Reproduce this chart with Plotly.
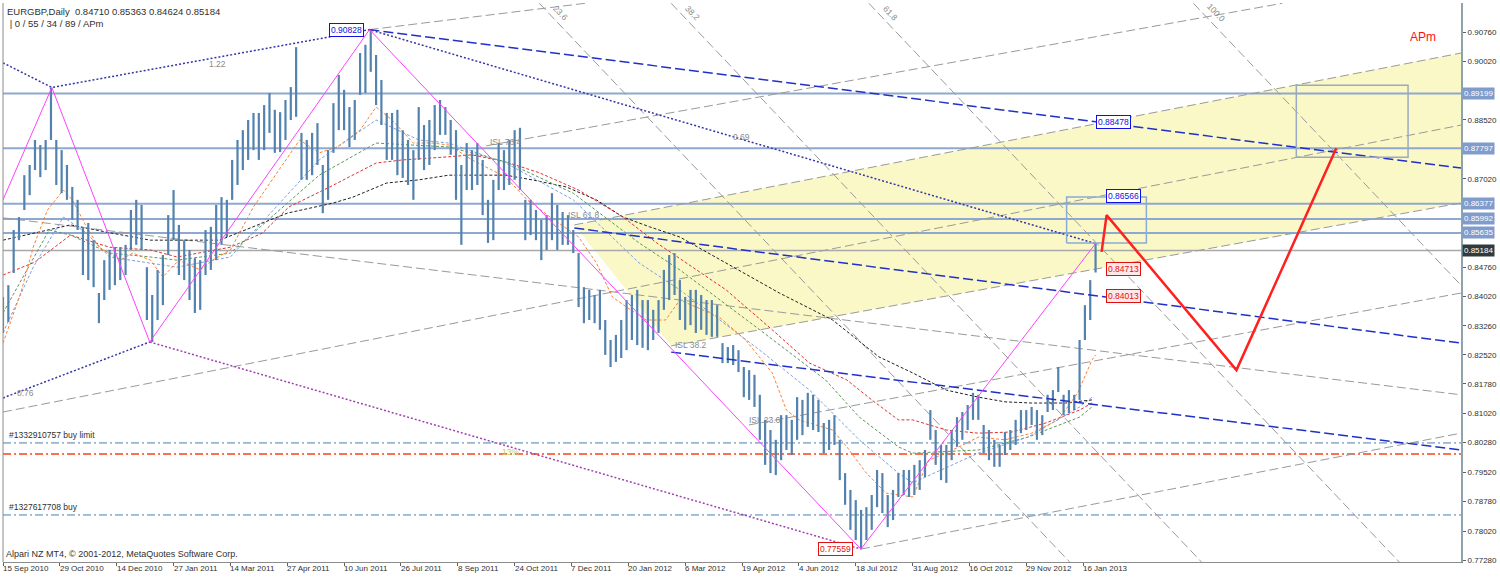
import plotly.graph_objects as go

# ---------------- DATA ----------------
BAR_STEP = 3  # one sample every 3 daily bars
high = [0.8400,0.8430,0.8571,0.8604,0.8711,0.8737,0.8801,0.8788,0.8801,0.8934,
        0.8801,0.8775,0.8737,0.8681,0.8648,0.8579,0.8589,0.8545,0.8410,0.8494,
        0.8520,0.8527,0.8527,0.8533,0.8622,0.8648,0.8635,0.8476,0.8405,0.8469,
        0.8507,0.8609,0.8673,0.8584,0.8545,0.8520,0.8499,0.8494,0.8571,0.8579,
        0.8635,0.8655,0.8648,0.8750,0.8801,0.8826,0.8852,0.8870,0.8870,0.8890,
        0.8921,0.8878,0.8872,0.8903,0.8936,0.9038,0.8819,0.8801,0.8819,0.8844,
        0.8737,0.8775,0.8895,0.8967,0.8929,0.8885,0.8903,0.9023,0.9044,0.9083,
        0.9018,0.8954,0.8870,0.8870,0.8878,0.8826,0.8801,0.8775,0.8885,0.8839,
        0.8852,0.8890,0.8903,0.8885,0.8852,0.8826,0.8737,0.8793,0.8775,0.8793,
        0.8750,0.8648,0.8699,0.8793,0.8775,0.8801,0.8826,0.8832,0.8648,0.8648,
        0.8622,0.8597,0.8609,0.8665,0.8635,0.8617,0.8609,0.8571,0.8512,0.8425,
        0.8418,0.8405,0.8418,0.8341,0.8290,0.8303,0.8341,0.8392,0.8405,0.8418,
        0.8392,0.8392,0.8367,0.8392,0.8469,0.8507,0.8512,0.8443,0.8400,0.8418,
        0.8418,0.8405,0.8392,0.8392,0.8379,0.8282,0.8272,0.8277,0.8264,0.8221,
        0.8213,0.8201,0.8150,0.8086,0.8060,0.8035,0.8098,0.8098,0.8086,0.8144,
        0.8137,0.8155,0.8150,0.8137,0.8078,0.8086,0.8098,0.8035,0.7950,0.7907,
        0.7881,0.7856,0.7863,0.7894,0.7958,0.7950,0.7894,0.7907,0.7950,0.7958,
        0.7958,0.7971,0.7983,0.8009,0.8111,0.8060,0.8022,0.8022,0.8060,0.8093,
        0.8106,0.8124,0.8155,0.8150,0.8073,0.8060,0.8035,0.8022,0.8055,0.8060,
        0.8086,0.8111,0.8111,0.8119,0.8111,0.8098,0.8150,0.8162,0.8221,0.8150,
        0.8162,0.8150,0.8290,0.8379,0.8443,0.85363]
low = [0.8308,0.8336,0.8461,0.8545,0.8622,0.8660,0.8724,0.8706,0.8724,0.8801,
       0.8686,0.8665,0.8648,0.8597,0.8571,0.8456,0.8443,0.8425,0.8333,0.8392,
       0.8418,0.8430,0.8443,0.8456,0.8520,0.8533,0.8520,0.8341,0.8285,0.8341,
       0.8379,0.8507,0.8545,0.8456,0.8443,0.8392,0.8359,0.8367,0.8456,0.8469,
       0.8494,0.8533,0.8553,0.8648,0.8686,0.8724,0.8750,0.8775,0.8750,0.8775,
       0.8819,0.8768,0.8770,0.8801,0.8852,0.8860,0.8699,0.8699,0.8711,0.8737,
       0.8614,0.8648,0.8768,0.8826,0.8826,0.8783,0.8801,0.8916,0.8921,0.8975,
       0.8890,0.8839,0.8750,0.8750,0.8711,0.8704,0.8686,0.8648,0.8750,0.8724,
       0.8737,0.8775,0.8814,0.8814,0.8763,0.8648,0.8533,0.8673,0.8673,0.8686,
       0.8609,0.8538,0.8545,0.8673,0.8673,0.8686,0.8699,0.8673,0.8545,0.8558,
       0.8545,0.8494,0.8520,0.8545,0.8520,0.8533,0.8533,0.8512,0.8374,0.8333,
       0.8341,0.8333,0.8316,0.8252,0.8221,0.8234,0.8244,0.8264,0.8290,0.8277,
       0.8270,0.8264,0.8290,0.8308,0.8367,0.8392,0.8405,0.8341,0.8316,0.8328,
       0.8308,0.8316,0.8303,0.8298,0.8298,0.8231,0.8231,0.8226,0.8208,0.8144,
       0.8137,0.8119,0.8035,0.7971,0.7950,0.7945,0.7983,0.8009,0.7996,0.8035,
       0.8047,0.8068,0.8060,0.8055,0.8001,0.8009,0.8022,0.7932,0.7869,0.7805,
       0.7779,0.77559,0.7779,0.7805,0.7863,0.7848,0.7812,0.7830,0.7889,0.7894,
       0.7889,0.7894,0.7907,0.7940,0.8035,0.7971,0.7932,0.7925,0.7983,0.8017,
       0.8035,0.8060,0.8086,0.8086,0.8001,0.7983,0.7966,0.7966,0.7996,0.8009,
       0.8022,0.8052,0.8060,0.8073,0.8035,0.8047,0.8106,0.8111,0.8157,0.8098,
       0.8103,0.8111,0.8137,0.8290,0.8341,0.84624]
bars = list(range(0, BAR_STEP * len(high), BAR_STEP))

date_labels = ["15 Sep 2010", "29 Oct 2010", "14 Dec 2010", "27 Jan 2011", "14 Mar 2011",
               "27 Apr 2011", "10 Jun 2011", "26 Jul 2011", "8 Sep 2011", "24 Oct 2011",
               "7 Dec 2011", "20 Jan 2012", "6 Mar 2012", "19 Apr 2012", "4 Jun 2012",
               "18 Jul 2012", "31 Aug 2012", "16 Oct 2012", "29 Nov 2012", "16 Jan 2013"]
date_bars = list(range(0, 32 * len(date_labels), 32))

y_ticks = [0.90760, 0.90020, 0.88520, 0.87020, 0.84760, 0.84020, 0.83260, 0.82520,
           0.81780, 0.81020, 0.80280, 0.79520, 0.78780, 0.78020, 0.77280]

# moving averages (bar, price)
ma_orange_x = [0,10,17,25,34,39,47,54,66,73,83,90,99,111,118,128,141,167,178,188,
               201,210,219,231,242,251,264,283,295,308,324,334,343,351,362,373,381,403,418,433,
               441,448,467,475,486,497,512,521,531,549,564,579,594,605,613,615]
ma_orange_y = [0.8282,0.8410,0.8527,0.8622,0.8673,0.8648,0.8579,0.8527,0.8494,0.8512,
               0.8494,0.8451,0.8494,0.8469,0.8494,0.8520,0.8630,0.8801,0.8768,0.8783,
               0.8826,0.8885,0.8852,0.8793,0.8793,0.8788,0.8750,0.8706,0.8648,0.8604,
               0.8553,0.8487,0.8400,0.8374,0.8341,0.8341,0.8392,0.8349,0.8290,0.8206,
               0.8111,0.8086,0.8060,0.8017,0.7950,0.7899,0.7889,0.7983,0.8001,0.8042,
               0.8035,0.8052,0.8086,0.8155,0.8239,0.8252]
ma_blue_x = [0,17,34,47,60,83,98,128,178,210,234,251,283,321,358,381,426,454,482,504,512,549,577,606,613]
ma_blue_y = [0.8308,0.8476,0.8604,0.8563,0.8502,0.8487,0.8476,0.8502,0.8750,0.8852,0.8801,0.8793,
             0.8742,0.8648,0.8487,0.8418,0.8264,0.8162,0.8035,0.7950,0.7925,0.8001,0.8042,0.8119,0.8144]
ma_green_x = [0,26,38,60,83,98,128,178,210,251,283,321,358,381,426,463,482,504,512,549,577,606,613]
ma_green_y = [0.8359,0.8571,0.8558,0.8512,0.8502,0.8494,0.8512,0.8711,0.8793,0.8783,0.8745,0.8665,
              0.8538,0.8469,0.8316,0.8188,0.8093,0.8017,0.8001,0.8009,0.8042,0.8093,0.8119]
ma_red_x = [0,18,38,60,83,98,128,146,161,184,210,225,251,264,283,302,324,349,368,407,433,454,475,489,
            504,512,531,549,568,587,606,613]
ma_red_y = [0.8456,0.8489,0.8558,0.8527,0.8520,0.8502,0.8527,0.8563,0.8630,0.8681,0.8742,0.8750,0.8758,
            0.8763,0.8745,0.8717,0.8673,0.8604,0.8538,0.8418,0.8316,0.8231,0.8188,0.8137,0.8086,0.8086,
            0.8060,0.8052,0.8055,0.8078,0.8111,0.8129]
ma_black_x = [0,38,60,83,122,146,160,186,197,216,234,251,283,298,317,334,349,364,381,437,467,493,512,
              531,549,564,579,598,613]
ma_black_y = [0.8545,0.8584,0.8564,0.8545,0.8545,0.8589,0.8614,0.8640,0.8655,0.8691,0.8699,0.8711,0.8711,
              0.8699,0.8681,0.8648,0.8604,0.8579,0.8553,0.8410,0.8341,0.8247,0.8206,0.8162,0.8144,0.8132,
              0.8129,0.8129,0.8137]

# drawn objects (anchor points in bar / price)
zigzag_x = [0, 27.5, 82.6, 206.3, 482.9, 615]
zigzag_y = [0.8648, 0.8935, 0.8285, 0.90828, 0.77559, 0.85363]
dot_up_x = [0, 27.5, 206.3, 615]
dot_up_y = [0.8998, 0.8935, 0.90828, 0.85363]
dot_low_x = [0, 82.6]
dot_low_y = [0.8142, 0.8285]
dot_purple_x = [82.6, 482.9]
dot_purple_y = [0.8285, 0.77559]
blue_dash = [([206.3, 820.7], [0.90828, 0.8729]),
             ([321.6, 820.7], [0.8576, 0.8282]),
             ([376.1, 820.7], [0.8259, 0.8009])]
gray_dash = [([0, 820.7], [0.8106, 0.8839]),
             ([321.6, 820.7], [0.8584, 0.9023]),
             ([272.1, 720.1], [0.8786, 0.9150]),
             ([376.1, 820.7], [0.8275, 0.8640]),
             ([419.9, 820.7], [0.8073, 0.8410]),
             ([482.9, 820.7], [0.77559, 0.8052]),
             ([0, 820.7], [0.8602, 0.8150]),
             ([206.3, 327.7], [0.90828, 0.9150])]
fib_names = ["23.6", "38.2", "61.8", "100.0"]
fib_lines = [([301.9, 600.4], [0.9150, 0.7723]),
             ([376.1, 674.6], [0.9150, 0.7723]),
             ([487.4, 785.9], [0.9150, 0.7723]),
             ([670.1, 820.7], [0.9150, 0.8430])]
yellow_x = [321.6, 820.7, 820.7, 376.1]
yellow_y = [0.8584, 0.9023, 0.8640, 0.8275]
h_levels = [0.89199, 0.87797, 0.86377, 0.85992, 0.85635]
last_close = 0.85184
rect_small = ([598.7, 643.6], [0.8538, 0.8655])
rect_big = ([728.0, 790.9], [0.8757, 0.8941])
proj_x = [618.4, 621.2, 694.3, 750.5]
proj_y = [0.8515, 0.8609, 0.8213, 0.8780]
order_buy_limit = 0.8027
order_tp = 0.7999
order_buy = 0.7843

X_MAX = 820.7
Y_RANGE = [0.77229, 0.91508]
FONT = "Liberation Sans"

fig = go.Figure()

def add_line(xs, ys, color, width=1, dash="solid", fill=None, fillcolor=None):
    fig.add_trace(go.Scatter(x=xs, y=ys, mode="lines", line=dict(color=color, width=width, dash=dash),
                             fill=fill, fillcolor=fillcolor, hoverinfo="skip", showlegend=False))

# yellow channel
add_line(yellow_x + [yellow_x[0]], yellow_y + [yellow_y[0]], "rgba(0,0,0,0)", 0, fill="toself",
         fillcolor="#FAF8C6")

# horizontal levels
for lv in h_levels:
    add_line([0, X_MAX], [lv, lv], "#8FA8D0", 2)
add_line([0, X_MAX], [last_close, last_close], "#A8A8A8", 1.5)

# order lines
add_line([0, X_MAX], [order_buy_limit] * 2, "#4A7FB0", 1, "8px,3px,2px,3px")
add_line([0, X_MAX], [order_tp] * 2, "#FF7050", 2, "8px,3px,2px,3px")
add_line([0, X_MAX], [order_buy] * 2, "#4A7FB0", 1, "8px,3px,2px,3px")

# gray dashed lines
for xs, ys in gray_dash:
    add_line(xs, ys, "#9A9A9A", 1, "9px,4px")
for xs, ys in fib_lines:
    add_line(xs, ys, "#9A9A9A", 1, "9px,4px")

# moving averages
add_line(ma_black_x, ma_black_y, "#202020", 1, "3px,2px")
add_line(ma_red_x, ma_red_y, "#E03030", 1, "3px,2px")
add_line(ma_green_x, ma_green_y, "#5A9A5A", 1, "3px,2px")
add_line(ma_blue_x, ma_blue_y, "#7FA0E0", 1, "3px,2px")
add_line(ma_orange_x, ma_orange_y, "#FF7F30", 1, "3px,2px")

# price bars
bx, by = [], []
for b, h, l in zip(bars, high, low):
    bx += [b, b, None]
    by += [l, h, None]
add_line(bx, by, "#5382AE", 2.2)

# blue lines
for xs, ys in blue_dash:
    add_line(xs, ys, "#2030C8", 1.5, "10px,4px")
add_line(dot_up_x, dot_up_y, "#3535A5", 1.5, "2px,2px")
add_line(dot_low_x, dot_low_y, "#3535A5", 1.5, "2px,2px")
add_line(dot_purple_x, dot_purple_y, "#A040B0", 1.5, "2px,2px")

# magenta zigzag
add_line(zigzag_x, zigzag_y, "#FF40FF", 1)

# rectangles
add_line([rect_small[0][0], rect_small[0][1], rect_small[0][1], rect_small[0][0], rect_small[0][0]],
         [rect_small[1][0], rect_small[1][0], rect_small[1][1], rect_small[1][1], rect_small[1][0]],
         "#8AAAD8", 1.5)
add_line([rect_big[0][0], rect_big[0][1], rect_big[0][1], rect_big[0][0], rect_big[0][0]],
         [rect_big[1][0], rect_big[1][0], rect_big[1][1], rect_big[1][1], rect_big[1][0]],
         "#9AAAC0", 1.5)

# red projection
add_line(proj_x, proj_y, "#FF2020", 2.5)

ann = []
def text(x, y, t, color="#303030", size=8.5, xanchor="left", yanchor="middle", xref="x", yref="y",
         xshift=0, yshift=0, **kw):
    ann.append(dict(x=x, y=y, text=t, xref=xref, yref=yref, showarrow=False, xanchor=xanchor,
                    yanchor=yanchor, xshift=xshift, yshift=yshift,
                    font=dict(family=FONT, size=size, color=color), **kw))

# header + footer
text(0, 1, "EURGBP,Daily  0.84710 0.85363 0.84624 0.85184", size=9.5, xref="paper", yref="paper",
     yanchor="top", xshift=2, yshift=-1)
text(0, 1, " | 0 / 55 / 34 / 89 / APm", size=9.5, xref="paper", yref="paper", yanchor="top",
     xshift=2, yshift=-13)
text(0, 0, "Alpari NZ MT4, © 2001-2012, MetaQuotes Software Corp.", size=9, xref="paper",
     yref="paper", yanchor="bottom", xshift=1, yshift=1)

# dates
for b, lab in zip(date_bars, date_labels):
    text(b, 0, lab, size=8, xref="x", yref="paper", yanchor="top", xshift=-2, yshift=0)

# right axis coloured labels
for lv in h_levels:
    text(1, lv, f"{lv:.5f}", color="white", size=8, xref="paper", xshift=1, bgcolor="#7F9CCB",
         borderpad=1)
text(1, last_close, f"{last_close:.5f}", color="white", size=8, xref="paper", xshift=1,
     bgcolor="#2F3C3C", borderpad=1)

# price label boxes
text(206.3, 0.90828, "0.90828", color="#1010E0", xanchor="right", xshift=-6, bgcolor="white",
     bordercolor="#1010E0", borderpad=1)
text(482.9, 0.77559, "0.77559", color="#E01010", xanchor="right", xshift=-8, bgcolor="white",
     bordercolor="#E01010", borderpad=1)
text(615, 0.84713, "0.84713", color="#E01010", xshift=10, bgcolor="#FFE8E8", bordercolor="#E01010",
     borderpad=1)
text(615, 0.84013, "0.84013", color="#E01010", xshift=10, bgcolor="#FFE8E8", bordercolor="#E01010",
     borderpad=1)
text(615, 0.86566, "0.86566", color="#1010E0", xshift=10, bgcolor="white", bordercolor="#1010E0",
     borderpad=1)
text(615, 0.88478, "0.88478", color="#1010E0", xshift=0, bgcolor="white", bordercolor="#1010E0",
     borderpad=1)

# small object labels
text(115, 0.8995, "1.22", color="#8A8A8A")
text(410, 0.8809, "0.69", color="#8A8A8A")
text(7, 0.8155, "0.76", color="#8A8A8A")
text(273, 0.8795, "ISL 76.4", color="#8A8A8A")
text(317, 0.8610, "ISL 61.8", color="#8A8A8A")
text(377, 0.8278, "ISL 38.2", color="#8A8A8A")
text(419, 0.8085, "ISL 23.6", color="#8A8A8A")
for (xs, ys), nm in zip(fib_lines, fib_names):
    text(xs[0] + 5, 0.9125, nm, color="#8A8A8A", textangle=46)
text(280, 0.8003, "13%", color="#C8C860")
text(2, order_buy_limit, "#1332910757 buy limit", yanchor="bottom", yshift=1)
text(2, order_buy, "#1327617708 buy", yanchor="bottom", yshift=1)
text(791, 0.9064, "APm", color="#FF1010", size=12)

fig.update_layout(
    width=1500, height=578, margin=dict(l=3, r=37, t=3, b=16),
    paper_bgcolor="white", plot_bgcolor="white", showlegend=False,
    annotations=ann,
    xaxis=dict(range=[0, X_MAX], showgrid=False, zeroline=False, showline=True, linecolor="#8C8C8C",
               tickvals=date_bars, ticks="outside", ticklen=3, tickcolor="#606060",
               showticklabels=False),
    yaxis=dict(range=Y_RANGE, side="right", showgrid=False, zeroline=False, showline=True,
               linecolor="#8FA3AD", linewidth=2, tickvals=y_ticks,
               ticktext=[f"{v:.5f}" for v in y_ticks], ticks="outside", ticklen=3,
               tickcolor="#606060", tickfont=dict(family=FONT, size=8, color="#303030")),
    shapes=[dict(type="line", xref="paper", yref="paper", x0=0, x1=0, y0=0, y1=1,
                 line=dict(color="#8C8C8C", width=1))],
)

fig.write_html("out.html", config={"displayModeBar": False},
               post_script="document.body.style.margin='0px';document.body.style.padding='0px';")
